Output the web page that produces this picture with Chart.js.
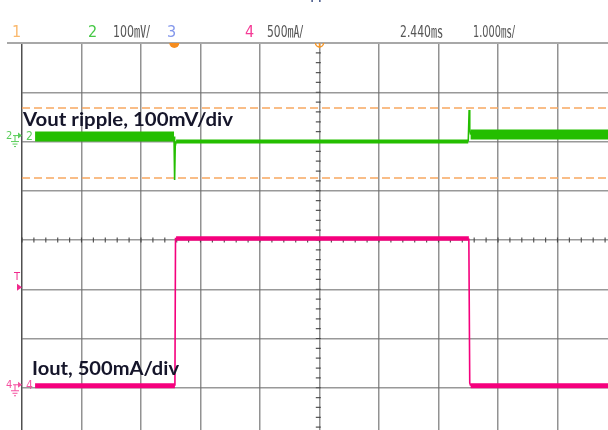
<!DOCTYPE html>
<html>
<head>
<meta charset="utf-8">
<script src="https://cdn.jsdelivr.net/npm/chart.js@4.4.0/dist/chart.umd.min.js"></script>
<style>
  html, body { margin: 0; padding: 0; background: #ffffff; overflow: hidden; width: 608px; height: 430px; }
  #wrap { position: absolute; left: 0; top: 0; width: 620px; height: 440px; }
  canvas { display: block; }
</style>
</head>
<body>
<div id="wrap"><canvas id="c" width="620" height="440"></canvas></div>
<script>
// ---- values (units: divisions; x 0..10, y -4..4, centre = 0) ----
// Channel 2 (Vout ripple), split into its segments
const vLeftX   = [0.22, 2.555];
const vLeftY   = [2.10, 2.10];
const vStep1X  = [2.555, 2.565, 2.575, 2.59];
const vStep1Y  = [2.10, 1.22, 1.90, 2.00];
const vMidX    = [2.59, 7.50];
const vMidY    = [2.00, 2.00];
const vStep2X  = [7.50, 7.515, 7.525, 7.54];
const vStep2Y  = [2.00, 2.64, 2.25, 2.14];
const vRightX  = [7.54, 10.0];
const vRightY  = [2.14, 2.14];
// Channel 4 (Iout)
const iLowLX   = [0.22, 2.57];
const iLowLY   = [-2.96, -2.96];
const iRiseX   = [2.57, 2.58, 2.59];
const iRiseY   = [-2.96, 0.03, 0.03];
const iHighX   = [2.59, 7.51];
const iHighY   = [0.03, 0.03];
const iFallX   = [7.51, 7.525, 7.54];
const iFallY   = [0.03, -2.90, -2.96];
const iLowRX   = [7.54, 10.0];
const iLowRY   = [-2.96, -2.96];
// cursor lines (orange dashed)
const cursorY  = [2.68, 1.26];
const cursorX  = [0, 10];
// header readouts
const headerTexts = ["1", "2", "100㎷/", "3", "4", "500㎃/", "2.440㎳", "1.000㎳/"];
const labelVout = "Vout ripple, 100mV/div";
const labelIout = "Iout, 500mA/div";

const pts = (xs, ys) => xs.map((x, i) => ({ x: x, y: ys[i] }));

const GREEN = "rgb(36,190,0)";
const PINK  = "rgb(245,0,125)";
const ORANGE = "rgb(247,168,96)";

function line(data, color, width, order, dash) {
  return {
    data: data, showLine: true, borderColor: color, backgroundColor: color,
    borderWidth: width, pointRadius: 0, order: order, borderCapStyle: "butt",
    borderJoinStyle: "miter", borderDash: dash || [], tension: 0
  };
}

const datasets = [
  line(pts(vLeftX, vLeftY), GREEN, 10, 1),
  line(pts(vStep1X, vStep1Y), GREEN, 1.6, 1),
  line(pts(vMidX, vMidY), GREEN, 4, 1),
  line(pts(vStep2X, vStep2Y), GREEN, 1.6, 1),
  line(pts(vRightX, vRightY), GREEN, 10, 1),
  line(pts(iLowLX, iLowLY), PINK, 5, 1),
  line(pts(iRiseX, iRiseY), PINK, 1.6, 1),
  line(pts(iHighX, iHighY), PINK, 4.5, 1),
  line(pts(iFallX, iFallY), PINK, 1.6, 1),
  line(pts(iLowRX, iLowRY), PINK, 5, 1),
  line(pts(cursorX, [cursorY[0], cursorY[0]]), ORANGE, 1.6, 5, [8, 4]),
  line(pts(cursorX, [cursorY[1], cursorY[1]]), ORANGE, 1.6, 5, [8, 4])
];

function fitText(ctx, text, x, base, width, font, color) {
  ctx.save();
  ctx.font = font;
  ctx.fillStyle = color;
  ctx.textBaseline = "alphabetic";
  const w = ctx.measureText(text).width;
  ctx.translate(x, base);
  if (width) ctx.scale(width / w, 1);
  ctx.fillText(text, 0, 0);
  ctx.restore();
}

const scopePlugin = {
  id: "scope",
  beforeDatasetsDraw(chart) {
    const ctx = chart.ctx;
    const xs = chart.scales.x, ys = chart.scales.y;
    const cx = xs.getPixelForValue(5 - 0.02), cy = ys.getPixelForValue(0);
    ctx.save();
    ctx.strokeStyle = "rgba(60,60,60,0.85)";
    ctx.lineWidth = 1.2;
    ctx.beginPath();
    for (let i = 0; i <= 50; i++) {
      const px = xs.getPixelForValue(i / 5);
      ctx.moveTo(px, cy - 2.5); ctx.lineTo(px, cy + 2.5);
    }
    for (let j = -20; j <= 20; j++) {
      const py = ys.getPixelForValue(j / 5);
      ctx.moveTo(cx - 2.5, py); ctx.lineTo(cx + 2.5, py);
    }
    ctx.stroke();
    // top frame line
    ctx.strokeStyle = "#a8a8a8";
    ctx.lineWidth = 2;
    ctx.beginPath();
    ctx.moveTo(7, ys.getPixelForValue(4)); ctx.lineTo(608, ys.getPixelForValue(4));
    ctx.stroke();
    ctx.restore();
  },
  afterDraw(chart) {
    const ctx = chart.ctx;
    const xs = chart.scales.x, ys = chart.scales.y;
    const top = ys.getPixelForValue(4);
    const hf = '16px "Liberation Sans Narrow", "DejaVu Sans Condensed", "Noto Sans CJK SC", sans-serif';
    // header readouts
    fitText(ctx, headerTexts[0], 12, 37, 0, hf, "rgb(250,185,110)");
    fitText(ctx, headerTexts[1], 88, 37, 0, hf, "rgb(70,200,70)");
    fitText(ctx, headerTexts[2], 113, 37, 37, hf, "#555555");
    fitText(ctx, headerTexts[3], 167, 37, 0, hf, "rgb(130,150,235)");
    fitText(ctx, headerTexts[4], 245, 37, 0, hf, "rgb(245,60,150)");
    fitText(ctx, headerTexts[5], 267, 37, 36, hf, "#555555");
    fitText(ctx, headerTexts[6], 400, 37, 43, hf, "#555555");
    fitText(ctx, headerTexts[7], 473, 37, 42, hf, "#555555");
    // cropped title at the very top
    fitText(ctx, "ripple", 302, 0, 0, '14px Lato, sans-serif', "#1f3470");

    // orange markers on the top border
    ctx.save();
    ctx.fillStyle = "rgb(245,140,30)";
    const mx = xs.getPixelForValue(2.56);
    ctx.beginPath();
    ctx.moveTo(mx - 5, top); ctx.lineTo(mx + 5, top);
    ctx.arc(mx, top, 5, 0, Math.PI, false);
    ctx.fill();
    const tx = xs.getPixelForValue(5);
    ctx.strokeStyle = "rgb(245,150,40)";
    ctx.lineWidth = 1.5;
    ctx.beginPath();
    ctx.arc(tx, top, 4, 0, Math.PI, false);
    ctx.stroke();
    ctx.beginPath();
    ctx.moveTo(tx, top); ctx.lineTo(tx, top + 5);
    ctx.stroke();
    ctx.restore();

    // channel markers on the left
    function chanMarker(val, label, color) {
      const y = ys.getPixelForValue(val);
      ctx.save();
      ctx.strokeStyle = color; ctx.fillStyle = color; ctx.lineWidth = 1;
      ctx.font = '11px "DejaVu Sans Condensed", sans-serif';
      ctx.fillText(label, 6, y + 2);
      ctx.beginPath();
      ctx.moveTo(13, y - 1); ctx.lineTo(21, y - 1);
      ctx.stroke();
      ctx.beginPath();
      ctx.moveTo(22, y - 1); ctx.lineTo(18, y - 4); ctx.lineTo(18, y + 2); ctx.closePath();
      ctx.fill();
      ctx.beginPath();
      ctx.moveTo(15, y - 1); ctx.lineTo(15, y + 5);
      ctx.moveTo(11, y + 5); ctx.lineTo(19, y + 5);
      ctx.moveTo(12.5, y + 7.5); ctx.lineTo(17.5, y + 7.5);
      ctx.moveTo(14, y + 10); ctx.lineTo(16, y + 10);
      ctx.stroke();
      ctx.font = '12px "DejaVu Sans Condensed", sans-serif';
      ctx.fillText(label, 26, y + 3);
      ctx.restore();
    }
    chanMarker(2.10, "2", "rgb(90,205,90)");
    chanMarker(-2.96, "4", "rgb(245,80,160)");
    // trigger level marker
    ctx.save();
    const ty = ys.getPixelForValue(-0.96);
    ctx.fillStyle = "rgb(240,40,140)";
    ctx.strokeStyle = "rgb(240,40,140)";
    ctx.font = '11px "DejaVu Sans Condensed", sans-serif';
    ctx.fillText("T", 14, ty - 7);
    ctx.beginPath();
    ctx.moveTo(22, ty); ctx.lineTo(17, ty - 3.5); ctx.lineTo(17, ty + 3.5); ctx.closePath();
    ctx.fill();
    ctx.restore();

    // annotations
    const lf = 'bold 19px Lato, "Open Sans", sans-serif';
    fitText(ctx, labelVout, 23, 126, 210, lf, "#15152a");
    fitText(ctx, labelIout, 32, 375, 147, lf, "#15152a");
  }
};

new Chart(document.getElementById("c"), {
  type: "scatter",
  data: { datasets: datasets },
  options: {
    responsive: false,
    animation: false,
    events: [],
    layout: { padding: { left: 22, top: 43, right: 3, bottom: 3 } },
    plugins: { legend: { display: false }, tooltip: { enabled: false }, title: { display: false } },
    scales: {
      x: {
        type: "linear", min: 0, max: 10,
        ticks: { display: false, stepSize: 1 },
        border: { display: false },
        grid: {
          drawTicks: false, lineWidth: 1.5,
          color: c => (c.tick && c.tick.value === 0) ? "#505050" : "rgba(110,110,110,0.75)"
        },
        afterFit: s => { s.height = 0; }
      },
      y: {
        type: "linear", min: -4, max: 4,
        ticks: { display: false, stepSize: 1 },
        border: { display: false },
        grid: { drawTicks: false, lineWidth: 1.5, color: "rgba(110,110,110,0.7)" },
        afterFit: s => { s.width = 0; }
      }
    }
  },
  plugins: [scopePlugin]
});
</script>
</body>
</html>
